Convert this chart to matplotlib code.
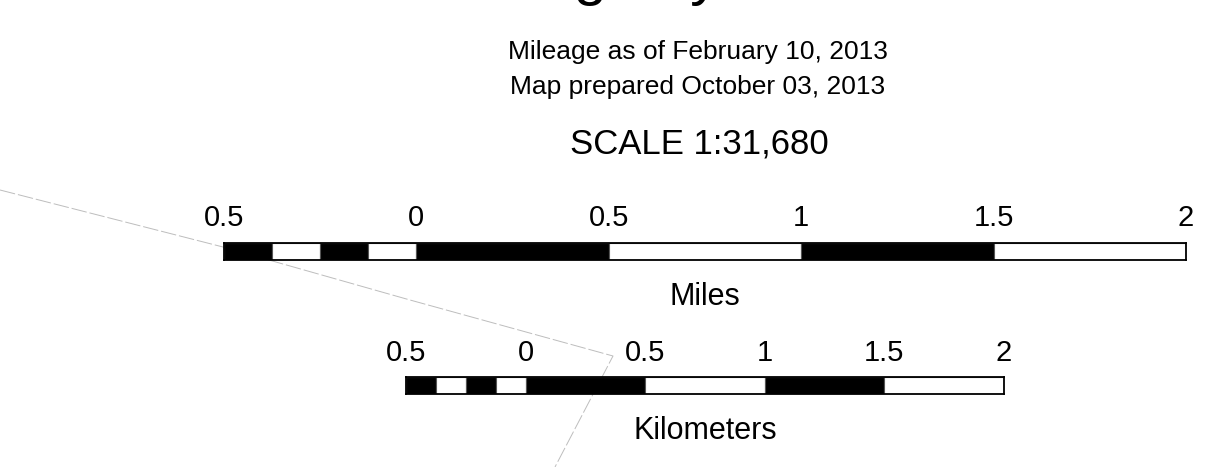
import matplotlib
matplotlib.use('Agg')
import matplotlib.pyplot as plt
from matplotlib import transforms

plt.rcParams['font.family'] = ['Liberation Sans', 'DejaVu Sans']

# scale bar data
mi_edges = [-0.5, -0.375, -0.25, -0.125, 0, 0.5, 1, 1.5, 2]
km_edges = [-0.5, -0.375, -0.25, -0.125, 0, 0.5, 1, 1.5, 2]
seg_fill = ['black', 'white', 'black', 'white', 'black', 'white', 'black', 'white']
mi_ticks = [-0.5, 0, 0.5, 1, 1.5, 2]
km_ticks = [-0.5, 0, 0.5, 1, 1.5, 2]
tick_labels = ['0.5', '0', '0.5', '1', '1.5', '2']
km_per_mile = 1.609344

# grey dashed map line (pixel coords)
line_x = [0, 223, 410, 613, 555]
line_y = [190, 247, 300, 356, 467]

title = 'Mileage by Route'
sub1 = 'Mileage as of February 10, 2013'
sub2 = 'Map prepared October 03, 2013'
scale_txt = 'SCALE 1:31,680'

W, H = 1211, 467
fig = plt.figure(figsize=(W / 100, H / 100), dpi=100)


def fy(py):
    return 1 - py / H


# background line
bg = fig.add_axes([0, 0, 1, 1], zorder=0)
bg.set_xlim(0, W)
bg.set_ylim(H, 0)
bg.axis('off')
bg.plot(line_x, line_y, color='#bdbdbd', lw=0.7, dashes=(16, 3))

# texts (title is cut off at the top, like the source map)
fig.text(664 / W, fy(-6), title, ha='center', va='baseline', fontsize=43)
fig.text(698 / W, fy(59), sub1, ha='center', va='baseline', fontsize=19)
fig.text(698 / W, fy(94), sub2, ha='center', va='baseline', fontsize=19)
fig.text(699 / W, fy(154), scale_txt, ha='center', va='baseline', fontsize=25)

mi_px = 384.8  # pixels per mile
km_px = mi_px / km_per_mile


def scalebar(left, top, unit_px, edges, ticks, label, tick_base, label_base):
    width = (edges[-1] - edges[0]) * unit_px
    ax = fig.add_axes([left / W, fy(top + 17), width / W, 17 / H], zorder=1)
    ax.patch.set_alpha(0)
    lefts = edges[:-1]
    widths = [b - a for a, b in zip(edges[:-1], edges[1:])]
    ax.bar(lefts, [1] * len(lefts), width=widths, align='edge',
           color=seg_fill, edgecolor='#555555', linewidth=0.8)
    ax.set_xlim(edges[0], edges[-1])
    ax.set_ylim(0, 1)
    ax.set_xticks([])
    ax.set_yticks([])
    for s in ax.spines.values():
        s.set_linewidth(1.3)
        s.set_color('black')
    tr = transforms.blended_transform_factory(ax.transData, fig.transFigure)
    for t, lab in zip(ticks, tick_labels):
        ax.text(t, fy(tick_base), lab, transform=tr, ha='center',
                va='baseline', fontsize=21, clip_on=False)
    ax.text((edges[0] + edges[-1]) / 2, fy(label_base), label, transform=tr,
            ha='center', va='baseline', fontsize=22, clip_on=False)
    return ax


scalebar(224, 243, mi_px, mi_edges, mi_ticks, 'Miles', 226, 305)
scalebar(406, 377, km_px, km_edges, km_ticks, 'Kilometers', 361, 439)

fig.savefig('out.png', dpi=100)
